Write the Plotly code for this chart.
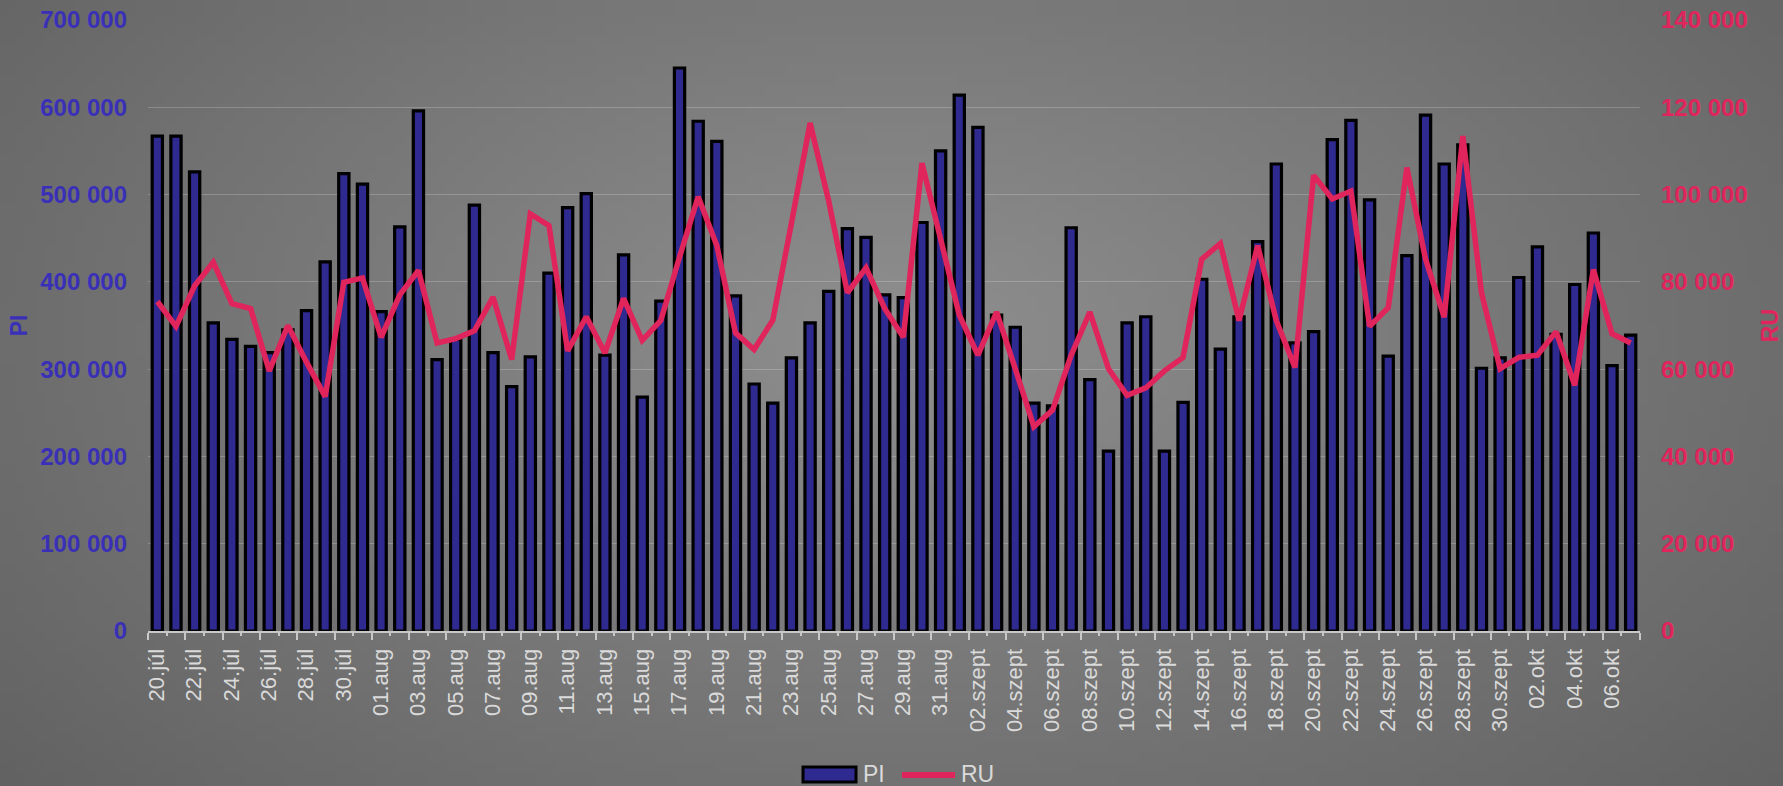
import base64, struct, zlib
import numpy as np
import plotly.graph_objects as go

# ---------------- data ----------------
dates = [
    "20.júl", "21.júl", "22.júl", "23.júl", "24.júl", "25.júl", "26.júl", "27.júl", "28.júl", "29.júl", "30.júl", "31.júl",
    "01.aug", "02.aug", "03.aug", "04.aug", "05.aug", "06.aug", "07.aug", "08.aug", "09.aug", "10.aug",
    "11.aug", "12.aug", "13.aug", "14.aug", "15.aug", "16.aug", "17.aug", "18.aug", "19.aug", "20.aug",
    "21.aug", "22.aug", "23.aug", "24.aug", "25.aug", "26.aug", "27.aug", "28.aug", "29.aug", "30.aug", "31.aug",
    "01.szept", "02.szept", "03.szept", "04.szept", "05.szept", "06.szept", "07.szept", "08.szept", "09.szept", "10.szept",
    "11.szept", "12.szept", "13.szept", "14.szept", "15.szept", "16.szept", "17.szept", "18.szept", "19.szept", "20.szept",
    "21.szept", "22.szept", "23.szept", "24.szept", "25.szept", "26.szept", "27.szept", "28.szept", "29.szept", "30.szept",
    "01.okt", "02.okt", "03.okt", "04.okt", "05.okt", "06.okt", "07.okt",
]

pi_values = [
    567000, 567000, 526000, 353000, 334000, 326000, 319000, 345000, 367000, 423000,
    524000, 512000, 366000, 463000, 596000, 311000, 334000, 488000, 319000, 280000,
    314000, 410000, 485000, 501000, 316000, 431000, 268000, 378000, 645000, 584000,
    561000, 384000, 283000, 261000, 313000, 353000, 389000, 461000, 451000, 385000,
    382000, 468000, 550000, 614000, 577000, 362000, 348000, 261000, 258000, 462000,
    288000, 206000, 353000, 360000, 206000, 262000, 403000, 323000, 360000, 446000,
    535000, 330000, 343000, 563000, 585000, 494000, 315000, 430000, 591000, 535000,
    557000, 301000, 313000, 405000, 440000, 340000, 397000, 456000, 304000, 339000,
]

ru_values = [
    75500, 69800, 79100, 84500, 75000, 73900, 59600, 70000, 61600, 53700,
    79900, 80900, 67300, 77000, 82600, 66000, 67000, 68800, 76500, 62200,
    95600, 92900, 64200, 72000, 63700, 76200, 66600, 71200, 85700, 99500,
    88300, 68300, 64500, 71200, 93400, 116400, 98500, 77500, 83200, 73900,
    67300, 107200, 89800, 72400, 63200, 73100, 60100, 46800, 50600, 63200,
    73100, 60100, 54000, 55700, 59600, 62700, 85200, 88800, 71100, 88300,
    71100, 60400, 104400, 99000, 100800, 69800, 74100, 106200, 85200, 71900,
    113400, 77500, 60100, 62700, 63200, 68600, 56300, 82800, 68100, 66000,
]

pi_ticks = [0, 100000, 200000, 300000, 400000, 500000, 600000, 700000]
pi_ticktext = ["0", "100 000", "200 000", "300 000", "400 000", "500 000", "600 000", "700 000"]
ru_ticks = [0, 20000, 40000, 60000, 80000, 100000, 120000, 140000]
ru_ticktext = ["0", "20 000", "40 000", "60 000", "80 000", "100 000", "120 000", "140 000"]

# ---------------- style ----------------
W, H = 1783, 786
ML, MR, MT, MB = 148, 143, 20, 155
PW, PH = W - ML - MR, H - MT - MB
BAR_COLOR = "#2f2a90"
LINE_COLOR = "#e0245c"
PI_COLOR = "#3a30b8"
TXT_COLOR = "#dadada"
FONT = "Liberation Sans, Arial, sans-serif"


def px_x(p):
    return (p - ML) / PW


def px_y(p):
    return (H - MB - p) / PH


# radial grey background as a small generated PNG
def gradient_png(w=178, h=79):
    yy, xx = np.mgrid[0:h, 0:w]
    cx, cy = 0.5 * w, 0.42 * h
    d = np.sqrt(((xx - cx) / (0.56 * w)) ** 2 + ((yy - cy) / (0.75 * h)) ** 2)
    v = np.clip(143 - 38 * d, 95, 150).astype(np.uint8)
    raw = b"".join(b"\x00" + v[r].tobytes() for r in range(h))

    def chunk(t, data):
        c = struct.pack(">I", len(data)) + t + data
        return c + struct.pack(">I", zlib.crc32(t + data) & 0xFFFFFFFF)

    png = b"\x89PNG\r\n\x1a\n"
    png += chunk(b"IHDR", struct.pack(">IIBBBBB", w, h, 8, 0, 0, 0, 0))
    png += chunk(b"IDAT", zlib.compress(raw, 9))
    png += chunk(b"IEND", b"")
    return "data:image/png;base64," + base64.b64encode(png).decode()


x_idx = list(range(len(dates)))
tick_pos = [i - 0.5 for i in range(0, len(dates), 2)] + [len(dates) - 0.5]
tick_txt = [dates[i] for i in range(0, len(dates), 2)] + [""]

fig = go.Figure()
fig.add_trace(go.Bar(
    x=x_idx, y=pi_values, name="PI",
    marker=dict(color=BAR_COLOR, line=dict(color="#000000", width=3.2)),
    yaxis="y", showlegend=False,
))
fig.add_trace(go.Scatter(
    x=x_idx, y=ru_values, name="RU", mode="lines",
    line=dict(color=LINE_COLOR, width=5.5),
    yaxis="y2", showlegend=False,
))

half_cat_px = int(round(PW / len(dates) / 2))

fig.update_layout(
    width=W, height=H,
    autosize=False,
    margin=dict(l=ML, r=MR, t=MT, b=MB, pad=0),
    paper_bgcolor="#6c6c6c",
    plot_bgcolor="rgba(0,0,0,0)",
    bargap=0.45,
    font=dict(family=FONT, color=TXT_COLOR),
    showlegend=False,
    xaxis=dict(
        automargin=False,
        range=[-0.5, len(dates) - 0.5],
        tickmode="array", tickvals=tick_pos, ticktext=tick_txt,
        ticklabelshift=half_cat_px,
        tickangle=-90,
        tickfont=dict(size=22, color=TXT_COLOR, family=FONT),
        ticks="outside", ticklen=7, tickwidth=2, tickcolor="#c8c8c8",
        minor=dict(ticks="outside", ticklen=3, tickwidth=2, tickcolor="#c8c8c8",
                   tickmode="linear", tick0=-0.5, dtick=1, showgrid=False),
        showline=True, linecolor="#c8c8c8", linewidth=2,
        showgrid=False, zeroline=False,
    ),
    yaxis=dict(
        automargin=False,
        range=[0, 700000], tickmode="array", tickvals=pi_ticks, ticktext=pi_ticktext,
        tickfont=dict(size=24, color=PI_COLOR, family=FONT, weight="bold"),
        ticklabelstandoff=20,
        showgrid=True, gridcolor="rgba(255,255,255,0.2)", gridwidth=1,
        zeroline=False, showline=False, ticks="",
        title=dict(text="PI", font=dict(size=23, color=PI_COLOR, family=FONT, weight="bold"), standoff=6),
    ),
    yaxis2=dict(
        automargin=False,
        range=[0, 140000], overlaying="y", side="right",
        tickmode="array", tickvals=ru_ticks, ticktext=ru_ticktext,
        tickfont=dict(size=24, color=LINE_COLOR, family=FONT, weight="bold"),
        ticklabelstandoff=20,
        showgrid=False, zeroline=False, showline=False, ticks="",
        title=dict(text="RU", font=dict(size=23, color=LINE_COLOR, family=FONT, weight="bold"), standoff=17),
    ),
    images=[dict(
        source=gradient_png(), xref="paper", yref="paper",
        x=px_x(0), y=px_y(0), sizex=W / PW, sizey=H / PH,
        xanchor="left", yanchor="top", sizing="stretch", layer="below",
    )],
)

# custom legend (bottom centre)
leg_y = 774
fig.add_shape(type="rect", xref="paper", yref="paper",
              x0=px_x(803), x1=px_x(856), y0=px_y(782), y1=px_y(767),
              fillcolor=BAR_COLOR, line=dict(color="#000000", width=3))
fig.add_annotation(text="PI", xref="paper", yref="paper", x=px_x(861), y=px_y(leg_y),
                   xanchor="left", yanchor="middle", showarrow=False,
                   font=dict(size=23, color=TXT_COLOR, family=FONT))
fig.add_shape(type="line", xref="paper", yref="paper",
              x0=px_x(902), x1=px_x(955), y0=px_y(775), y1=px_y(775),
              line=dict(color=LINE_COLOR, width=6))
fig.add_annotation(text="RU", xref="paper", yref="paper", x=px_x(959), y=px_y(leg_y),
                   xanchor="left", yanchor="middle", showarrow=False,
                   font=dict(size=23, color=TXT_COLOR, family=FONT))

fig.write_html(
    "out.html",
    config={"displayModeBar": False},
    post_script="document.body.style.margin='0';document.body.style.overflow='hidden';",
)
